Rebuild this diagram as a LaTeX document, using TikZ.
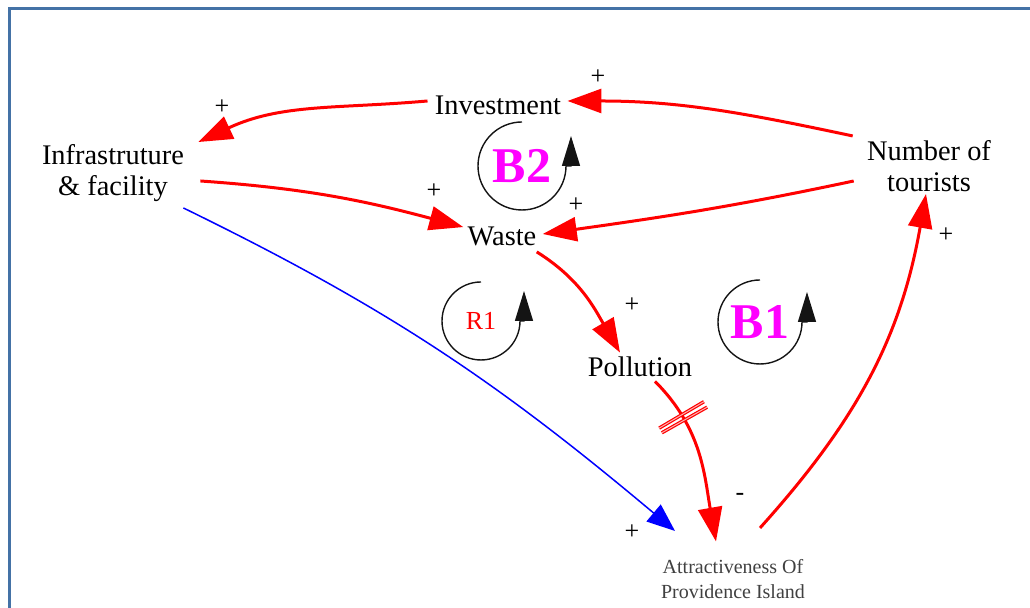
\documentclass[tikz,border=0pt]{standalone}
\usepackage{fontspec}
\setmainfont{Liberation Serif}
\usetikzlibrary{arrows.meta,calc}
\definecolor{framecol}{RGB}{68,114,166}
\definecolor{labelgray}{RGB}{64,64,64}
\definecolor{loopgray}{RGB}{20,20,20}
\definecolor{loopmag}{RGB}{255,0,255}
\begin{document}
\begin{tikzpicture}[x=0.5pt,y=0.5pt,
  var/.style={align=center, inner sep=2pt, font=\fontsize{14.2}{15.5}\selectfont},
  link/.style={draw=red, line width=1.5pt, -{Triangle[length=17pt,width=12pt]}},
  weaklink/.style={draw=blue, line width=0.75pt, -{Triangle[length=14pt,width=11pt]}},
  sign/.style={font=\fontsize{13}{13}\selectfont, inner sep=0pt},
  looparc/.style={draw=loopgray, line width=0.7pt, -{Triangle[length=15pt,width=9pt]}},
  balance/.style={text=loopmag, font=\fontsize{25}{25}\selectfont\bfseries},
  delaybar/.style={draw=red, line width=0.6pt, double=red!30, double distance=0.5pt},
]
\useasboundingbox (0,0) rectangle (1030,608);
% frame
\draw[framecol, line width=1.5pt] (9,0) -- (9,599.5) -- (1030,599.5);

% variables
\node[var] (inv) at (498,503) {Investment};
\node[var] (infra) at (113,435) {Infrastruture\\ \& facility};
\node[var] (tour) at (929,442) {Number of\\tourists};
\node[var] (waste) at (502,372) {Waste};
\node[var] (poll) at (640,241) {Pollution};
\node[align=center, text=labelgray, inner sep=2pt, font=\fontsize{10}{12.5}\selectfont] (attr) at (733,29) {Attractiveness Of\\Providence Island};

% causal links
\draw[link] ($(tour.north west)+(-10,0)$) to[out=168,in=0] ($(inv.east)+(2,4)$);
\draw[link] ($(inv.west)+(-3,4)$) to[out=185,in=25] ($(infra.north east)+(10,-2)$);
\draw[link] ($(infra.east)+(12,-8)$) to[out=-4,in=165] ($(waste.north west)+(0,-5)$);
\draw[link] ($(tour.west)+(-9,-15)$) to[out=192,in=8] ($(waste.east)+(2,2)$);
\draw[link] ($(waste.south east)+(-4,-2)$) to[out=-32,in=120] ($(poll.north)+(-20,0)$);
\draw[link] ($(poll.south)+(15,0)$) to[out=-45,in=100]
  coordinate[pos=0.235] (dA) coordinate[pos=0.2525] (dM) coordinate[pos=0.27] (dB)
  ($(attr.north)+(-17,13.5)$);
\draw[link] ($(attr.north)+(27,27)$) to[out=48,in=-100] ($(tour.south)+(-3,2)$);
\draw[weaklink] ($(infra.south east)+(-5,-2)$) to[out=-26,in=140] ($(attr.north)+(-58,24)$);

% delay mark
\draw[delaybar] ($(dA)!13pt!90:(dM)$) -- ($(dA)!13pt!-90:(dM)$);
\draw[delaybar] ($(dB)!13pt!90:(dM)$) -- ($(dB)!13pt!-90:(dM)$);

% polarity signs
\node[sign] (s1) at (598,531) {+};
\node[sign] (s2) at (222,501) {+};
\node[sign] (s3) at (434,417) {+};
\node[sign] (s4) at (576,403) {+};
\node[sign] (s5) at (632,303) {+};
\node[sign] (s6) at (946,373) {+};
\node[sign] (s7) at (632,76) {+};
\node[sign] (s8) at (740,111) {-};

% loop markers
\node[balance] (b2) at (522,442) {B2};
\draw[looparc] ($(b2)+(0,44)$) arc[start angle=90,end angle=360,radius=44] -- ++(5,0) -- ++(0,30);
\node[text=red, font=\fontsize{13}{13}\selectfont] (r1) at (481,287) {R1};
\draw[looparc] ($(r1)+(0,39)$) arc[start angle=90,end angle=360,radius=39] -- ++(4,0) -- ++(0,30);
\node[balance] (b1) at (760,286) {B1};
\draw[looparc] ($(b1)+(0,42)$) arc[start angle=90,end angle=360,radius=42] -- ++(5,0) -- ++(0,30);
\end{tikzpicture}
\end{document}
